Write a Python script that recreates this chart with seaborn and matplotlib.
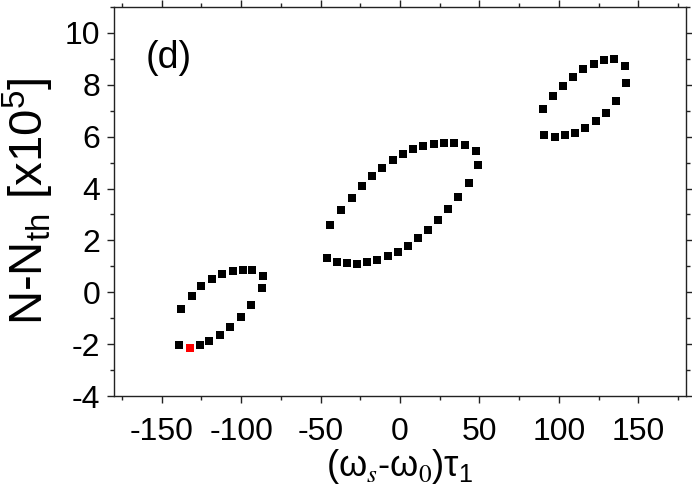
import numpy as np
import pandas as pd
import matplotlib
matplotlib.use("Agg")
import matplotlib.pyplot as plt
from matplotlib.ticker import MultipleLocator
import seaborn as sns

# Loop 1 (left), upper and lower branches
loop1_x = [-138, -131, -125, -118, -112, -105, -99, -93, -86,
           -87, -94, -100, -107, -113, -120, -126, -139]
loop1_y = [-0.64, -0.13, 0.24, 0.50, 0.70, 0.81, 0.87, 0.84, 0.63,
           0.17, -0.49, -0.95, -1.34, -1.64, -1.87, -2.05, -2.03]

# Loop 2 (middle)
loop2_x = [-44, -37, -30.5, -24, -17.6, -11, -4.6, 2.1, 8.3, 14.8, 21.3, 27.8, 34.2, 40.8, 47.8,
           49.1, 43.3, 36.7, 30.5, 24.2, 17.7, 11.3, 5.0, -1.5, -7.8, -14.2, -20.7, -27, -33.2, -39.5, -45.8]
loop2_y = [2.58, 3.16, 3.64, 4.08, 4.48, 4.81, 5.10, 5.33, 5.51, 5.65, 5.73, 5.77, 5.75, 5.68, 5.46,
           4.90, 4.23, 3.69, 3.23, 2.80, 2.42, 2.08, 1.80, 1.55, 1.38, 1.24, 1.15, 1.10, 1.11, 1.16, 1.32]

# Loop 3 (right)
loop3_x = [89.8, 96.1, 102.6, 108.8, 115.4, 121.8, 128.3, 134.5, 141.4,
           142.1, 136.0, 129.5, 123.1, 116.6, 110.3, 103.8, 97.4, 90.9]
loop3_y = [7.06, 7.56, 7.97, 8.31, 8.60, 8.82, 8.94, 8.98, 8.71,
           8.07, 7.36, 6.90, 6.59, 6.34, 6.15, 6.05, 6.00, 6.05]

# highlighted point
red_x = [-132.3]
red_y = [-2.14]

df = pd.DataFrame({"x": loop1_x + loop2_x + loop3_x, "y": loop1_y + loop2_y + loop3_y})
df_red = pd.DataFrame({"x": red_x, "y": red_y})

sns.set_theme(style="ticks")
plt.rcParams["font.family"] = ["Liberation Sans", "DejaVu Sans"]
plt.rcParams["mathtext.fontset"] = "custom"
plt.rcParams["mathtext.rm"] = "Liberation Sans"
plt.rcParams["mathtext.it"] = "Liberation Sans:italic"
plt.rcParams["mathtext.default"] = "regular"
plt.rcParams["axes.unicode_minus"] = False
plt.rcParams["text.color"] = "black"
plt.rcParams["axes.labelcolor"] = "black"
plt.rcParams["xtick.labelcolor"] = "black"
plt.rcParams["ytick.labelcolor"] = "black"

fig = plt.figure(figsize=(6.92, 4.9), dpi=100)
ax = fig.add_axes([0.1647, 0.1918, 0.8266, 0.7939])

sns.scatterplot(data=df, x="x", y="y", marker="s", s=30, color="black", linewidth=0, ax=ax)
sns.scatterplot(data=df_red, x="x", y="y", marker="s", s=30, color="red", linewidth=0, ax=ax)

ax.set_xlim(-180, 180)
ax.set_ylim(-4, 11)
ax.xaxis.set_major_locator(MultipleLocator(50))
ax.xaxis.set_minor_locator(MultipleLocator(25))
ax.yaxis.set_major_locator(MultipleLocator(2))
ax.yaxis.set_minor_locator(MultipleLocator(1))

for s in ax.spines.values():
    s.set_visible(True)
    s.set_linewidth(1.0)
    s.set_color("#222222")
ax.tick_params(which="both", direction="out", top=True, right=True, color="#222222", width=1.0)
ax.tick_params(which="major", length=5, labelsize=23, pad=5)
ax.tick_params(which="minor", length=3)
ax.tick_params(axis="x", which="major", pad=10)

ax.set_xlabel(r"$(\omega_{\mathit{s}}$-$\omega_{\mathit{0}})\tau_1$", fontsize=26, math_fontfamily="stix", labelpad=0)
ax.set_ylabel(r"N-N$_{th}$ [x10$^5$]", fontsize=34, labelpad=6)
ax.text(0.055, 0.87, "(d)", transform=ax.transAxes, fontsize=27, va="center", ha="left")

fig.savefig("out.png", dpi=100)
